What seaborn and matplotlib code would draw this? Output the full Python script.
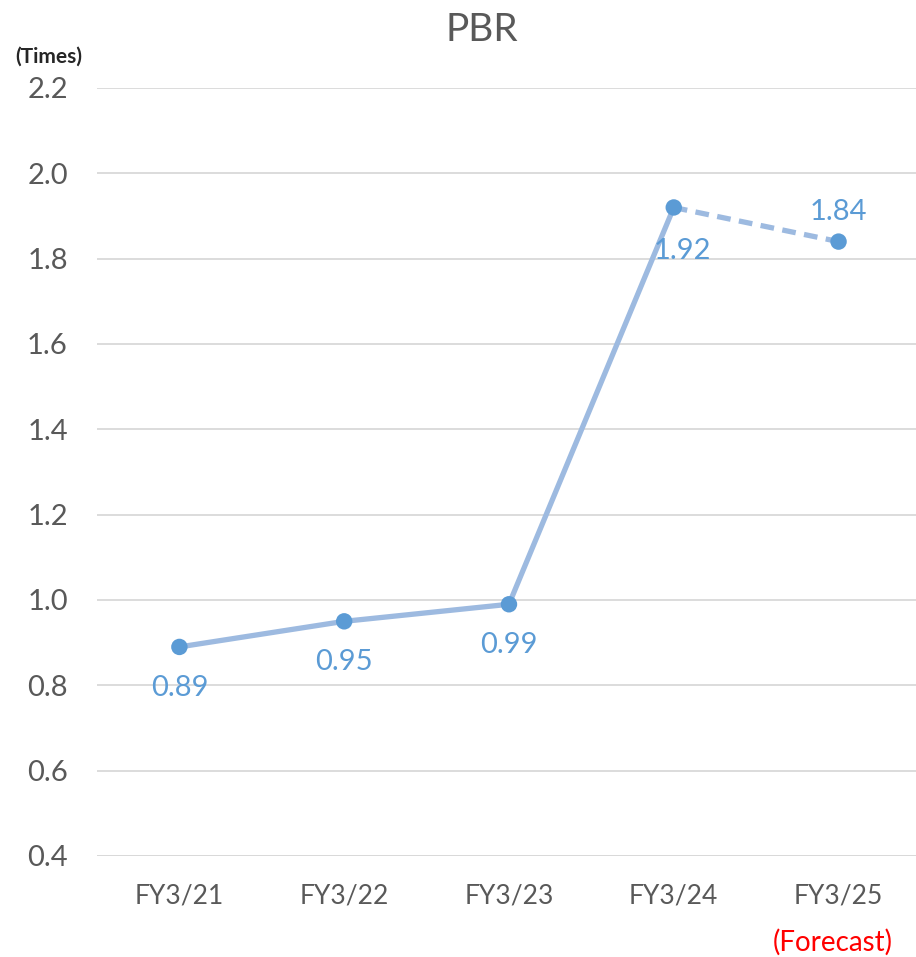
import pandas as pd
import seaborn as sns
import matplotlib.pyplot as plt

# data
years = ['FY3/21', 'FY3/22', 'FY3/23', 'FY3/24', 'FY3/25']
pbr = [0.89, 0.95, 0.99, 1.92, 1.84]
label_pos = ['below', 'below', 'below', 'below', 'above']
yticks = [0.4, 0.6, 0.8, 1.0, 1.2, 1.4, 1.6, 1.8, 2.0, 2.2]

sns.set_theme(style='white')
plt.rcParams['font.family'] = ['Lato', 'DejaVu Sans']

df = pd.DataFrame({'year': years, 'pbr': pbr, 'x': range(len(years))})
df_actual = df.iloc[:4]
df_fc = df.iloc[3:]

fig = plt.figure(figsize=(9.16, 9.57), dpi=100)
ax = fig.add_axes([97 / 916, 1 - 856 / 957, 1 - 97 / 916, (856 - 88) / 957])

line_col = '#9DBAE0'
dot_col = '#5B9BD5'
grey = '#595959'

sns.lineplot(data=df_actual, x='x', y='pbr', ax=ax, color=line_col, linewidth=3.8)
sns.lineplot(data=df_fc, x='x', y='pbr', ax=ax, color=line_col, linewidth=3.8,
             linestyle=(0, (2.6, 1.6)))
sns.scatterplot(data=df, x='x', y='pbr', ax=ax, color=dot_col, s=140,
                edgecolor='none', zorder=5)

# data labels
for i, (v, pos) in enumerate(zip(pbr, label_pos)):
    if pos == 'above':
        ax.annotate(f'{v:.2f}', (i, v), xytext=(0, 12), textcoords='offset points',
                    ha='center', va='bottom', color=dot_col, fontsize=21)
    else:
        dx = 6 if i == 3 else 0
        dy = -22 if i == 3 else -20
        ax.annotate(f'{v:.2f}', (i, v), xytext=(dx, dy), textcoords='offset points',
                    ha='center', va='top', color=dot_col, fontsize=21)

ax.set_xlim(-0.5, 4.47)
ax.set_ylim(0.4, 2.2)
ax.set_yticks(yticks)
ax.set_yticklabels([f'{t:.1f}' for t in yticks])
ax.set_xticks(range(len(years)))
ax.set_xticklabels(years)
ax.tick_params(axis='y', labelsize=21, colors=grey, length=0, pad=21)
ax.tick_params(axis='x', labelsize=19, colors=grey, length=0, pad=20)
ax.grid(axis='y', color='#D9D9D9', linewidth=1.3)
ax.set_xlabel('')
ax.set_ylabel('')
for s in ax.spines.values():
    s.set_visible(False)
ax.axhline(0.4, color='#D9D9D9', linewidth=1.3)

fig.text(482 / 916, 1 - 30 / 957, 'PBR', ha='center', va='center', fontsize=28, color=grey)
fig.text(49 / 916, 1 - 57 / 957, '(Times)', ha='center', va='center', fontsize=15,
         fontweight='bold', color='#262626')
fig.text(833 / 916, 1 - 942 / 957, '(Forecast)', ha='center', va='center', fontsize=20,
         color='#FF0000')

fig.savefig('out.png', dpi=100)
